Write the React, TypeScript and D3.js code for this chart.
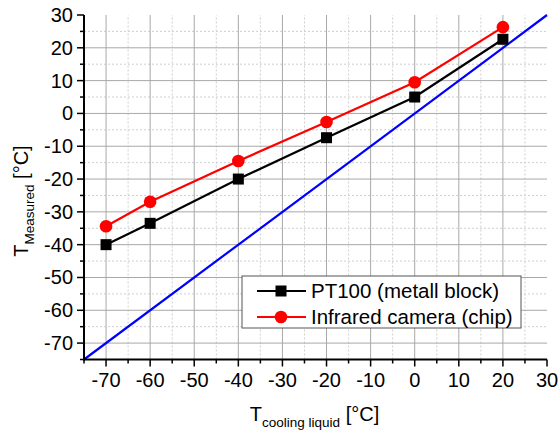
import React from "react";
import * as d3 from "d3";

const coolingTemps = [-70, -60, -40, -20, 0, 20];
const pt100Values = [-40, -33.5, -20, -7.4, 5, 22.6];
const infraredValues = [-34.4, -26.9, -14.5, -2.6, 9.5, 26.3];
const referenceLine = [-75, 30];
const majorTicks = [-70, -60, -50, -40, -30, -20, -10, 0, 10, 20, 30];
const minorTicks = [-75, -65, -55, -45, -35, -25, -15, -5, 5, 15, 25];
const legendLabels = ["PT100 (metall block)", "Infrared camera (chip)"];

const W = 559;
const H = 434;
const FONT = "'Liberation Sans', Arial, sans-serif";

export default function App() {
  const x = d3.scaleLinear().domain([-75, 30]).range([84, 547]);
  const y = d3.scaleLinear().domain([-75, 30]).range([359.5, 15]);
  const line = d3
    .line<[number, number]>()
    .x((d) => x(d[0]))
    .y((d) => y(d[1]));
  const ptData: [number, number][] = coolingTemps.map((t, i) => [t, pt100Values[i]]);
  const irData: [number, number][] = coolingTemps.map((t, i) => [t, infraredValues[i]]);
  const refData: [number, number][] = referenceLine.map((v) => [v, v]);
  const x0 = x(-75);
  const x1 = x(30);
  const y0 = y(-75);
  const y1 = y(30);
  const fs = 20;

  return (
    <svg
      width={W}
      height={H}
      style={{ position: "absolute", left: 0, top: 0, background: "#fff" }}
      fontFamily={FONT}
    >
      <rect x={0} y={0} width={W} height={H} fill="#fff" />
      {/* minor grid */}
      {minorTicks.filter((t) => t > -75).map((t) => (
        <g key={"mg" + t}>
          <line x1={x(t)} x2={x(t)} y1={y0} y2={y1} stroke="#cfcfcf" strokeWidth={1} strokeDasharray="2,2" />
          <line x1={x0} x2={x1} y1={y(t)} y2={y(t)} stroke="#cfcfcf" strokeWidth={1} strokeDasharray="2,2" />
        </g>
      ))}
      {/* major grid */}
      {majorTicks.filter((t) => t < 30).map((t) => (
        <g key={"Mg" + t}>
          <line x1={x(t)} x2={x(t)} y1={y0} y2={y1} stroke="#a8a8a8" strokeWidth={1} />
          <line x1={x0} x2={x1} y1={y(t)} y2={y(t)} stroke="#a8a8a8" strokeWidth={1} />
        </g>
      ))}
      {/* reference line */}
      <path d={line(refData) || ""} fill="none" stroke="#0000ff" strokeWidth={2.2} />
      {/* series */}
      <path d={line(ptData) || ""} fill="none" stroke="#000" strokeWidth={2.2} />
      <path d={line(irData) || ""} fill="none" stroke="#ff0000" strokeWidth={2.2} />
      {irData.map((d, i) => (
        <circle key={"c" + i} cx={x(d[0])} cy={y(d[1])} r={6.3} fill="#ff0000" />
      ))}
      {ptData.map((d, i) => (
        <rect key={"s" + i} x={x(d[0]) - 5.5} y={y(d[1]) - 5.5} width={11} height={11} fill="#000" />
      ))}
      {/* axes */}
      <line x1={x0} x2={x0} y1={y1} y2={y0 + 1} stroke="#000" strokeWidth={2} />
      <line x1={x0 - 1} x2={x1} y1={y0} y2={y0} stroke="#000" strokeWidth={2} />
      {majorTicks.map((t) => (
        <g key={"xt" + t}>
          <line x1={x(t)} x2={x(t)} y1={y0} y2={y0 + 7} stroke="#000" strokeWidth={1.5} />
          <text x={x(t)} y={387} textAnchor="middle" fontSize={fs} fill="#000">
            {t}
          </text>
          <line x1={x0} x2={x0 - 7} y1={y(t)} y2={y(t)} stroke="#000" strokeWidth={1.5} />
          <text x={x0 - 11} y={y(t) + 7} textAnchor="end" fontSize={fs} fill="#000">
            {t}
          </text>
        </g>
      ))}
      {minorTicks.map((t) => (
        <g key={"xm" + t}>
          <line x1={x(t)} x2={x(t)} y1={y0} y2={y0 + 4} stroke="#000" strokeWidth={1.5} />
          <line x1={x0} x2={x0 - 4} y1={y(t)} y2={y(t)} stroke="#000" strokeWidth={1.5} />
        </g>
      ))}
      {/* x title */}
      <text x={(x0 + x1) / 2 - 1} y={421} textAnchor="middle" fontSize={fs} fill="#000">
        T
        <tspan fontSize={13.5} dy={6}>cooling liquid</tspan>
        <tspan dy={-6}> [°C]</tspan>
      </text>
      {/* y title */}
      <text
        transform={`translate(28, 201) rotate(-90)`}
        textAnchor="middle"
        fontSize={fs}
        fill="#000"
      >
        T
        <tspan fontSize={13.5} dy={6}>Measured</tspan>
        <tspan dy={-6}> [°C]</tspan>
      </text>
      {/* legend */}
      <rect x={242} y={276} width={279} height={52} fill="#fff" stroke="#555" strokeWidth={1} />
      <line x1={257} x2={306} y1={291} y2={291} stroke="#000" strokeWidth={2.2} />
      <rect x={281 - 5.5} y={291 - 5.5} width={11} height={11} fill="#000" />
      <text x={311} y={298} fontSize={20.5} fill="#000">
        {legendLabels[0]}
      </text>
      <line x1={257} x2={306} y1={317} y2={317} stroke="#ff0000" strokeWidth={2.2} />
      <circle cx={281} cy={317} r={6.3} fill="#ff0000" />
      <text x={311} y={324} fontSize={20.5} fill="#000">
        {legendLabels[1]}
      </text>
    </svg>
  );
}
